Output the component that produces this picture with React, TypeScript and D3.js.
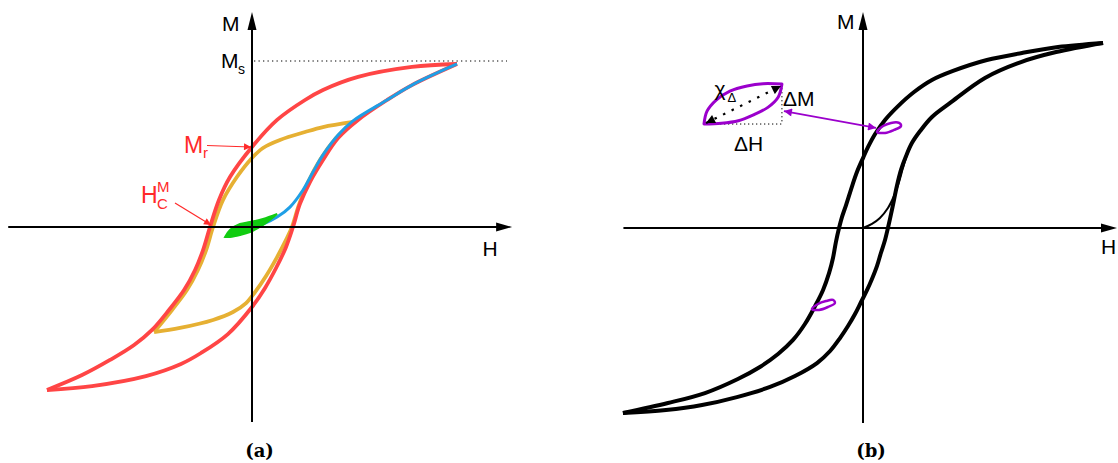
import React from 'react';
import * as d3 from 'd3';

type Pt = [number, number];

// ---------- Panel (a): normalised H (x) and M (y) ----------
// major loop, descending branch (from +saturation to -saturation)
const majorDescA: Pt[] = [
  [1.005, 0.982], [0.784, 0.964], [0.52, 0.904], [0.348, 0.825], [0.26, 0.765], [0.123, 0.645],
  [0.0, 0.482], [-0.108, 0.301], [-0.162, 0.163], [-0.206, 0.0], [-0.24, -0.139], [-0.279, -0.259],
  [-0.333, -0.38], [-0.407, -0.5], [-0.49, -0.62], [-0.578, -0.711], [-0.696, -0.801],
  [-0.833, -0.892], [-1.005, -0.982],
];
// major loop, ascending branch
const majorAscA: Pt[] = [
  [-1.005, -0.982], [-0.784, -0.958], [-0.52, -0.898], [-0.348, -0.825], [-0.25, -0.759],
  [-0.118, -0.645], [0.0, -0.482], [0.064, -0.367], [0.118, -0.247], [0.167, -0.12], [0.201, 0.0],
  [0.235, 0.139], [0.284, 0.271], [0.348, 0.404], [0.422, 0.536], [0.52, 0.645], [0.662, 0.765],
  [0.784, 0.855], [1.005, 0.982],
];
// first-order minor loop (orange)
const minorDescA: Pt[] = [
  [0.495, 0.633], [0.348, 0.602], [0.26, 0.572], [0.137, 0.524], [0.054, 0.476], [0.0, 0.416],
  [-0.074, 0.301], [-0.142, 0.163], [-0.191, 0.0], [-0.225, -0.139], [-0.265, -0.259],
  [-0.319, -0.38], [-0.392, -0.5], [-0.48, -0.633],
];
const minorAscA: Pt[] = [
  [-0.48, -0.633], [-0.353, -0.608], [-0.191, -0.56], [-0.093, -0.512], [-0.029, -0.458],
  [0.015, -0.392], [0.069, -0.295], [0.123, -0.181], [0.167, -0.078], [0.196, 0.0],
  [0.23, 0.133], [0.275, 0.271], [0.333, 0.404], [0.412, 0.536], [0.495, 0.633],
];
// initial magnetisation curve (blue)
const virginA: Pt[] = [
  [0, 0], [0.054, 0.018], [0.123, 0.06], [0.186, 0.12], [0.25, 0.223], [0.299, 0.331],
  [0.348, 0.434], [0.422, 0.554], [0.495, 0.639], [0.662, 0.765], [0.784, 0.855], [1.005, 0.982],
];
// small reversible loop near the origin (green)
const smallUpperA: Pt[] = [
  [-0.132, -0.06], [-0.108, -0.018], [-0.059, 0.018], [-0.01, 0.03], [0.054, 0.048], [0.123, 0.078],
];
const smallLowerA: Pt[] = [
  [-0.132, -0.06], [-0.108, -0.06], [-0.059, -0.048], [-0.01, -0.03], [0.054, 0.012], [0.123, 0.078],
];
const saturationA = 1.0;
const remanenceA = 0.482;
const coercivityA = -0.206;

// ---------- Panel (b) ----------
const majorDescB: Pt[] = [
  [0.992, 1.0], [0.806, 0.978], [0.657, 0.946], [0.512, 0.908], [0.372, 0.849], [0.285, 0.8],
  [0.211, 0.735], [0.145, 0.659], [0.091, 0.584], [0.05, 0.508], [0.021, 0.438], [0.0, 0.378],
  [-0.025, 0.303], [-0.045, 0.227], [-0.07, 0.124], [-0.087, 0.059], [-0.099, 0.0],
  [-0.112, -0.076], [-0.124, -0.162], [-0.14, -0.243], [-0.165, -0.335], [-0.198, -0.422],
  [-0.24, -0.519], [-0.289, -0.605], [-0.351, -0.681], [-0.426, -0.751], [-0.517, -0.816],
  [-0.653, -0.892], [-0.806, -0.946], [-0.992, -1.0],
];
const majorAscB: Pt[] = [
  [-0.992, -1.0], [-0.814, -0.984], [-0.665, -0.957], [-0.521, -0.914], [-0.384, -0.859],
  [-0.281, -0.8], [-0.19, -0.73], [-0.136, -0.665], [-0.095, -0.595], [-0.062, -0.53],
  [-0.033, -0.465], [-0.008, -0.4], [0.017, -0.335], [0.037, -0.276], [0.058, -0.205],
  [0.074, -0.135], [0.091, -0.065], [0.103, 0.0], [0.116, 0.076], [0.128, 0.151], [0.14, 0.227],
  [0.157, 0.314], [0.178, 0.389], [0.202, 0.459], [0.236, 0.524], [0.285, 0.6], [0.36, 0.676],
  [0.504, 0.811], [0.653, 0.897], [0.798, 0.951], [0.992, 1.0],
];
const virginB: Pt[] = [
  [0, 0], [0.037, 0.022], [0.07, 0.054], [0.103, 0.108], [0.128, 0.173], [0.149, 0.249],
  [0.165, 0.324], [0.182, 0.395], [0.202, 0.459],
];
// minor loops sitting on the major loop (closed)
const minorLoopB1: Pt[] = [
  [0.058, 0.519], [0.083, 0.551], [0.116, 0.568], [0.149, 0.568], [0.157, 0.551],
  [0.128, 0.53], [0.091, 0.514],
];
const minorLoopB2: Pt[] = [
  [-0.211, -0.438], [-0.186, -0.411], [-0.153, -0.395], [-0.124, -0.389], [-0.116, -0.405],
  [-0.145, -0.427], [-0.182, -0.443],
];
// enlarged minor loop
const zoomUpperB: Pt[] = [
  [-0.657, 0.562], [-0.645, 0.63], [-0.608, 0.69], [-0.55, 0.74], [-0.479, 0.768],
  [-0.413, 0.78], [-0.335, 0.778],
];
const zoomLowerB: Pt[] = [
  [-0.657, 0.562], [-0.585, 0.566], [-0.515, 0.58], [-0.452, 0.612], [-0.393, 0.652],
  [-0.35, 0.708], [-0.335, 0.778],
];

// ---------- scales ----------
const xA = d3.scaleLinear().domain([-1, 1]).range([48, 456]);
const yA = d3.scaleLinear().domain([-1, 1]).range([393, 61]);
const xB = d3.scaleLinear().domain([-1, 1]).range([621, 1105]);
const yB = d3.scaleLinear().domain([-1, 1]).range([413, 43]);

const lineA = d3.line<Pt>().x((d) => xA(d[0])).y((d) => yA(d[1])).curve(d3.curveCatmullRom.alpha(0.5));
const lineB = d3.line<Pt>().x((d) => xB(d[0])).y((d) => yB(d[1])).curve(d3.curveCatmullRom.alpha(0.5));
const closedB = d3.line<Pt>().x((d) => xB(d[0])).y((d) => yB(d[1])).curve(d3.curveCatmullRomClosed.alpha(0.5));

const lens = (gen: d3.Line<Pt>, upper: Pt[], lower: Pt[]) =>
  (gen(upper) || '') + (gen([...lower].reverse()) || '').replace(/^M/, 'L') + 'Z';

const RED = '#ff4545';
const RED_TEXT = '#ff2a2a';
const ORANGE = '#e6b033';
const BLUE = '#1f9fe6';
const GREEN = '#11cc11';
const PURPLE = '#9b00cc';
const SANS = '"Liberation Sans", Arial, Helvetica, sans-serif';

function ArrowH({ x0, x1, y }: { x0: number; x1: number; y: number }) {
  return (
    <g>
      <line x1={x0} x2={x1 - 12} y1={y} y2={y} stroke="#000" strokeWidth={2} />
      <polygon points={`${x1},${y} ${x1 - 16},${y - 4.5} ${x1 - 16},${y + 4.5}`} fill="#000" />
    </g>
  );
}
function ArrowV({ x, y0, y1 }: { x: number; y0: number; y1: number }) {
  return (
    <g>
      <line x1={x} x2={x} y1={y0} y2={y1 + 12} stroke="#000" strokeWidth={2} />
      <polygon points={`${x},${y1} ${x - 4.5},${y1 + 18} ${x + 4.5},${y1 + 18}`} fill="#000" />
    </g>
  );
}

export default function App() {
  const ax0 = xA(0);
  const ay0 = yA(0);
  const bx0 = xB(0);
  const by0 = yB(0);

  const zL = zoomUpperB[0];
  const zR = zoomUpperB[zoomUpperB.length - 1];

  return (
    <svg
      width={1118}
      height={463}
      viewBox="0 0 1118 463"
      style={{ position: 'absolute', left: 0, top: 0, background: '#fff' }}
    >
      <defs>
        <marker id="redHead" viewBox="0 0 10 10" refX="10" refY="5" markerWidth="9" markerHeight="7"
          markerUnits="userSpaceOnUse" orient="auto">
          <path d="M0,0 L10,5 L0,10 Z" fill={RED_TEXT} />
        </marker>
        <marker id="purpleHead" viewBox="0 0 10 10" refX="10" refY="5" markerWidth="12" markerHeight="8"
          markerUnits="userSpaceOnUse" orient="auto-start-reverse">
          <path d="M0,0 L10,5 L0,10 Z" fill={PURPLE} />
        </marker>
        <marker id="blackHead" viewBox="0 0 10 10" refX="10" refY="5" markerWidth="11" markerHeight="9"
          markerUnits="userSpaceOnUse" orient="auto-start-reverse">
          <path d="M0,0 L10,5 L0,10 Z" fill="#000" />
        </marker>
      </defs>

      {/* ================= panel (a) ================= */}
      <line x1={ax0 + 2} x2={xA(1.25)} y1={yA(saturationA)} y2={yA(saturationA)}
        stroke="#000" strokeWidth={1} strokeDasharray="1.3,3.2" />
      <path d={lineA(minorDescA) || ''} fill="none" stroke={ORANGE} strokeWidth={3.8} />
      <path d={lineA(minorAscA) || ''} fill="none" stroke={ORANGE} strokeWidth={3.8} />
      <path d={lineA(majorDescA) || ''} fill="none" stroke={RED} strokeWidth={3.8} strokeLinejoin="round" />
      <path d={lineA(majorAscA) || ''} fill="none" stroke={RED} strokeWidth={3.8} strokeLinejoin="round" />
      <path d={lineA(virginA) || ''} fill="none" stroke={BLUE} strokeWidth={3} />
      <path d={lens(lineA, smallUpperA, smallLowerA)} fill={GREEN} stroke={GREEN} strokeWidth={2} />

      <ArrowH x0={xA(-1.195)} x1={xA(1.275)} y={ay0} />
      <ArrowV x={ax0} y0={yA(-1.175)} y1={yA(1.295)} />

      <text x={ax0 - 30} y={31} fontFamily={SANS} fontSize={21}>M</text>
      <text x={ax0 - 31} y={68} fontFamily={SANS} fontSize={21}>M</text>
      <text x={ax0 - 14} y={74} fontFamily={SANS} fontSize={14}>s</text>
      <text x={xA(1.13)} y={256} fontFamily={SANS} fontSize={21}>H</text>

      {/* remanence and coercivity annotations */}
      <text x={ax0 - 68} y={153} fontFamily={SANS} fontSize={23} fill={RED_TEXT}>M</text>
      <text x={ax0 - 49} y={158} fontFamily={SANS} fontSize={15} fill={RED_TEXT}>r</text>
      <line x1={ax0 - 45} y1={yA(remanenceA) - 1.5} x2={ax0 - 1} y2={yA(remanenceA)}
        stroke={RED_TEXT} strokeWidth={1.2} markerEnd="url(#redHead)" />
      <text x={ax0 - 111} y={203} fontFamily={SANS} fontSize={23} fill={RED_TEXT}>H</text>
      <text x={ax0 - 95} y={209} fontFamily={SANS} fontSize={15} fill={RED_TEXT}>C</text>
      <text x={ax0 - 95} y={192} fontFamily={SANS} fontSize={15} fill={RED_TEXT}>M</text>
      <line x1={ax0 - 77} y1={203} x2={xA(coercivityA) + 1} y2={ay0 - 2}
        stroke={RED_TEXT} strokeWidth={1.2} markerEnd="url(#redHead)" />

      <text x={259.5} y={457} textAnchor="middle" fontFamily='"DejaVu Serif", serif' fontWeight="bold" fontSize={18}>(a)</text>

      {/* ================= panel (b) ================= */}
      <path d={lineB(majorDescB) || ''} fill="none" stroke="#000" strokeWidth={4} strokeLinejoin="round" />
      <path d={lineB(majorAscB) || ''} fill="none" stroke="#000" strokeWidth={4} strokeLinejoin="round" />
      <path d={lineB(virginB) || ''} fill="none" stroke="#000" strokeWidth={2} />

      <ArrowH x0={xB(-0.99)} x1={1117} y={by0} />
      <ArrowV x={bx0} y0={yB(-1.054)} y1={yB(1.168)} />

      <path d={closedB(minorLoopB1) || ''} fill="none" stroke={PURPLE} strokeWidth={2.5} />
      <path d={closedB(minorLoopB2) || ''} fill="none" stroke={PURPLE} strokeWidth={2.5} />

      {/* enlarged minor loop with its increments */}
      <line x1={xB(zL[0])} x2={xB(zR[0])} y1={yB(zL[1])} y2={yB(zL[1])}
        stroke="#000" strokeWidth={1} strokeDasharray="1.3,2.7" />
      <line x1={xB(zR[0])} x2={xB(zR[0])} y1={yB(zR[1])} y2={yB(zL[1])}
        stroke="#000" strokeWidth={1} strokeDasharray="1.3,2.7" />
      <path d={lens(lineB, zoomUpperB, zoomLowerB)} fill="none" stroke={PURPLE} strokeWidth={3} strokeLinejoin="round" />
      <line x1={xB(zL[0]) + 2} y1={yB(zL[1]) - 1} x2={xB(zR[0]) - 1} y2={yB(zR[1]) + 2}
        stroke="#000" strokeWidth={2.2} strokeDasharray="2.5,7" markerStart="url(#blackHead)" markerEnd="url(#blackHead)" />
      <line x1={xB(zR[0]) + 2} y1={yB(0.632)} x2={xB(0.054)} y2={yB(0.541)}
        stroke={PURPLE} strokeWidth={1.8} markerStart="url(#purpleHead)" markerEnd="url(#purpleHead)" />

      <text x={xB(-0.614)} y={96} fontFamily={SANS} fontSize={21}>χ</text>
      <text x={xB(-0.56)} y={102} fontFamily={SANS} fontSize={13}>Δ</text>
      <text x={xB(zR[0]) + 1} y={106} fontFamily={SANS} fontSize={21}>ΔM</text>
      <text x={xB(-0.533)} y={151} fontFamily={SANS} fontSize={21}>ΔH</text>

      <text x={bx0 - 26} y={29} fontFamily={SANS} fontSize={21}>M</text>
      <text x={1101} y={254} fontFamily={SANS} fontSize={21}>H</text>

      <text x={871} y={457} textAnchor="middle" fontFamily='"DejaVu Serif", serif' fontWeight="bold" fontSize={18}>(b)</text>
    </svg>
  );
}
